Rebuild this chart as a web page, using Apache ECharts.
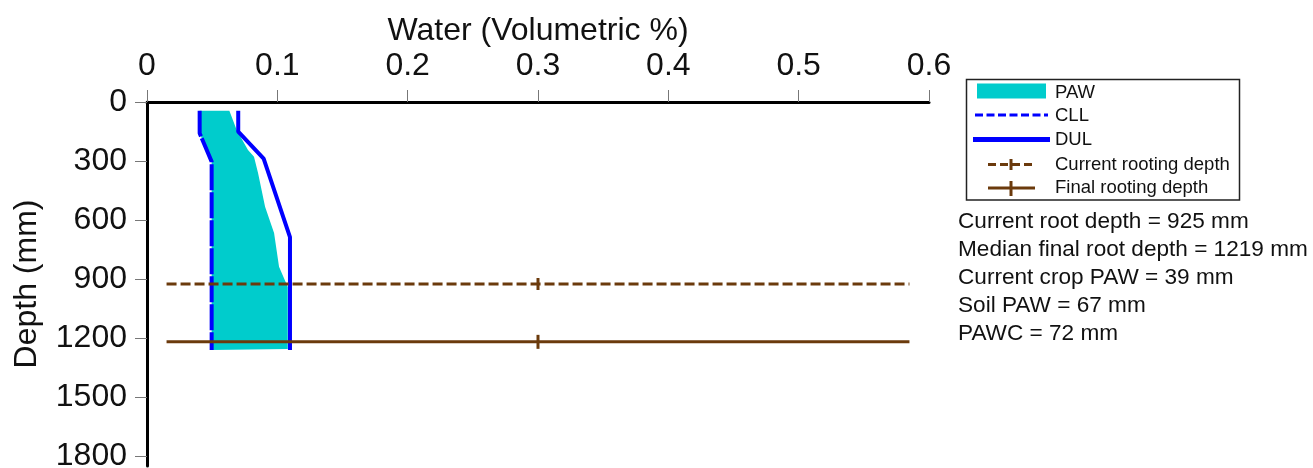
<!DOCTYPE html>
<html>
<head>
<meta charset="utf-8">
<script src="https://cdn.jsdelivr.net/npm/echarts@6/dist/echarts.min.js"></script>
<style>
html, body { margin: 0; padding: 0; background: #fff; }
#main { width: 1313px; height: 468px; }
</style>
</head>
<body>
<div id="main"></div>
<script>
// values (water fraction, depth mm)
var cllDepth = [44, 159, 303, 1260];
var cllWater = [0.0404, 0.0404, 0.0496, 0.0496];

var dulDepth = [44, 151, 288, 687, 1260];
var dulWater = [0.0700, 0.0700, 0.0895, 0.1097, 0.1097];

// right edge of the PAW fill
var pawDepth = [44, 142, 244, 278, 361, 532, 666, 837, 920, 940, 1255];
var pawWater = [0.0632, 0.0688, 0.0775, 0.0821, 0.0852, 0.0906, 0.0975, 0.1013, 0.1067, 0.1080, 0.1080];

var rootWater = [0.015, 0.3, 0.585];
var currentRootDepth = 925;
var finalRootDepth = 1219;

var depthTicks = [0, 300, 600, 900, 1200, 1500, 1800];

var notes = [
	'Current root depth = 925 mm',
	'Median final root depth = 1219 mm',
	'Current crop PAW = 39 mm',
	'Soil PAW = 67 mm',
	'PAWC = 72 mm'
];

var FONT = '"Liberation Sans", Arial, sans-serif';
var BROWN = '#6b3a0c';
var BLUE = '#0000ff';
var CYAN = '#00cccc';

function pairs(xs, ys) {
	var a = [];
	for (var i = 0; i < xs.length; i++) {
		a.push([xs[i], ys[i]]);
	}
	return a;
}

function rootLine(depth) {
	return [
		{ value: [rootWater[0], depth], symbol: 'none' },
		{ value: [rootWater[1], depth] },
		{ value: [rootWater[2], depth], symbol: 'none' }
	];
}

var myChart = echarts.init(document.getElementById('main'));

// legend drawn by hand: each swatch has its own width
var lg = [];
lg.push({ type: 'rect', shape: { x: 966.5, y: 79.5, width: 273, height: 120.5 },
	style: { fill: '#fff', stroke: '#222', lineWidth: 1.5 } });
lg.push({ type: 'rect', shape: { x: 977, y: 83.5, width: 69, height: 15 }, style: { fill: CYAN } });
lg.push({ type: 'line', shape: { x1: 975, y1: 115, x2: 1048, y2: 115 },
	style: { stroke: BLUE, lineWidth: 3, lineDash: [8, 3.5] } });
lg.push({ type: 'line', shape: { x1: 973, y1: 139.5, x2: 1050, y2: 139.5 },
	style: { stroke: BLUE, lineWidth: 5 } });
lg.push({ type: 'line', shape: { x1: 988, y1: 164.5, x2: 1035, y2: 164.5 },
	style: { stroke: BROWN, lineWidth: 3, lineDash: [8, 4] } });
lg.push({ type: 'line', shape: { x1: 1011, y1: 159, x2: 1011, y2: 170 },
	style: { stroke: BROWN, lineWidth: 3 } });
lg.push({ type: 'line', shape: { x1: 988, y1: 188, x2: 1035, y2: 188 },
	style: { stroke: BROWN, lineWidth: 3 } });
lg.push({ type: 'line', shape: { x1: 1011, y1: 181, x2: 1011, y2: 196 },
	style: { stroke: BROWN, lineWidth: 3 } });
var lgNames = ['PAW', 'CLL', 'DUL', 'Current rooting depth', 'Final rooting depth'];
var lgY = [92.5, 115.5, 140, 164.5, 187.5];
for (var i = 0; i < lgNames.length; i++) {
	lg.push({ type: 'text', x: 1055, y: lgY[i],
		style: { text: lgNames[i], font: '18.5px ' + FONT, fill: '#111', verticalAlign: 'middle' } });
}
for (var j = 0; j < notes.length; j++) {
	lg.push({ type: 'text', x: 958, y: 222 + j * 28,
		style: { text: notes[j], font: '22.6px ' + FONT, fill: '#111', verticalAlign: 'middle' } });
}

var option = {
	animation: false,
	backgroundColor: '#fff',
	textStyle: { fontFamily: FONT },
	grid: { left: 147, right: 384, top: 102, bottom: 2, outerBoundsMode: 'none', containLabel: false },
	xAxis: {
		type: 'value',
		position: 'top',
		min: 0,
		max: 0.6,
		interval: 0.1,
		name: 'Water (Volumetric %)',
		nameLocation: 'middle',
		nameGap: 55,
		nameMoveOverlap: false,
		nameTextStyle: { fontSize: 32, color: '#111', fontFamily: FONT },
		axisLine: { show: true, lineStyle: { color: '#000', width: 3 } },
		axisTick: { show: true, length: 12, lineStyle: { color: '#777', width: 1 } },
		axisLabel: { fontSize: 32, color: '#111', margin: 20, fontFamily: FONT },
		splitLine: { show: false }
	},
	yAxis: {
		type: 'value',
		inverse: true,
		min: 0,
		max: 1850,
		interval: 300,
		name: 'Depth (mm)',
		nameLocation: 'middle',
		nameGap: 104,
		nameTextStyle: { fontSize: 32, color: '#111', fontFamily: FONT },
		axisLine: { show: true, lineStyle: { color: '#000', width: 3 } },
		axisTick: { show: true, length: 12, customValues: depthTicks, lineStyle: { color: '#777', width: 1 } },
		axisLabel: {
			fontSize: 32, color: '#111', margin: 20, fontFamily: FONT,
			customValues: depthTicks,
			formatter: function (v) { return v % 300 === 0 ? String(v) : ''; }
		},
		splitLine: { show: false }
	},
	graphic: lg,
	series: [{
		name: 'PAW',
		type: 'custom',
		data: [[0, 0]],
		z: 1,
		renderItem: function (params, api) {
			var pts = [];
			for (var i = 0; i < pawDepth.length; i++) {
				pts.push(api.coord([pawWater[i], pawDepth[i]]));
			}
			for (var k = cllDepth.length - 1; k >= 0; k--) {
				pts.push(api.coord([cllWater[k], cllDepth[k]]));
			}
			return { type: 'polygon', shape: { points: pts }, style: { fill: CYAN } };
		}
	}, {
		name: 'CLL',
		type: 'line',
		data: pairs(cllWater, cllDepth),
		symbol: 'none',
		z: 3,
		lineStyle: { color: BLUE, width: 4, type: [26, 2] }
	}, {
		name: 'DUL',
		type: 'line',
		data: pairs(dulWater, dulDepth),
		symbol: 'none',
		z: 3,
		lineStyle: { color: BLUE, width: 4 }
	}, {
		name: 'Current rooting depth',
		type: 'line',
		data: rootLine(currentRootDepth),
		symbol: 'rect',
		symbolSize: [3, 12],
		showSymbol: true,
		z: 4,
		itemStyle: { color: BROWN },
		lineStyle: { color: BROWN, width: 3, type: [10, 4] }
	}, {
		name: 'Final rooting depth',
		type: 'line',
		data: rootLine(finalRootDepth),
		symbol: 'rect',
		symbolSize: [3, 14],
		showSymbol: true,
		z: 4,
		itemStyle: { color: BROWN },
		lineStyle: { color: BROWN, width: 3 }
	}]
};

if (option && typeof option === 'object') {
	myChart.setOption(option, true);
}
</script>
</body>
</html>
